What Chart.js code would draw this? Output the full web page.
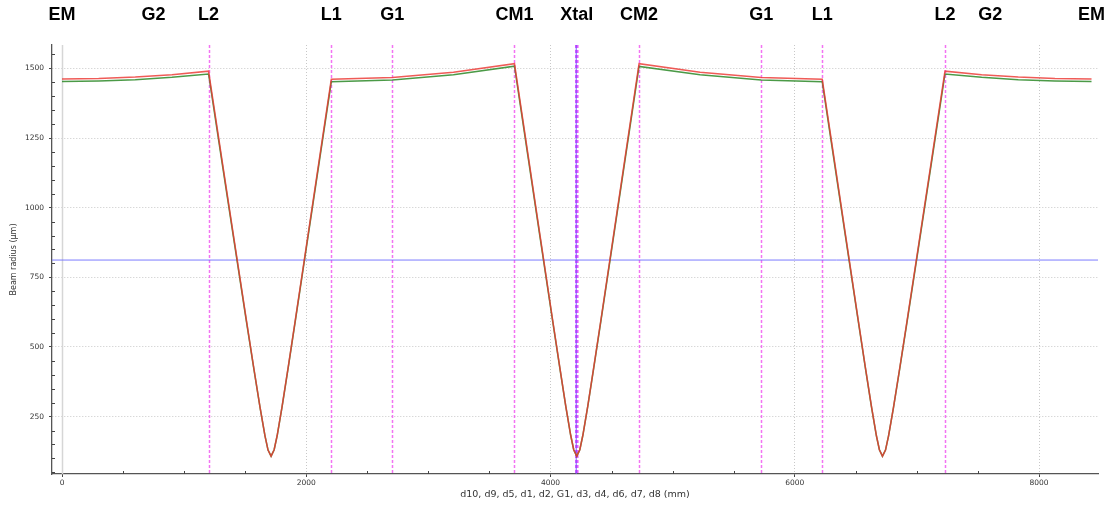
<!DOCTYPE html>
<html>
<head>
<meta charset="utf-8">
<title>Beam radius along the cavity</title>
<script src="https://cdn.jsdelivr.net/npm/chart.js@4.4.0/dist/chart.umd.min.js"></script>
<style>
  html, body { margin: 0; padding: 0; background: #ffffff; }
  canvas { display: block; }
</style>
</head>
<body>
<canvas id="cavity" width="1114" height="508"></canvas>
<script>
// Optical elements along the unfolded cavity (mm)
const elementNames     = ['EM', 'G2', 'L2', 'L1', 'G1', 'CM1', 'Xtal', 'CM2', 'G1', 'L1', 'L2', 'G2', 'EM'];
const elementPositions = [0, 750, 1200, 2205, 2705, 3705, 4215, 4725, 5725, 6225, 7230, 7600, 8430];

// Elements marked with a dashed vertical line
const markerPositions  = [1200, 2205, 2705, 3705, 4725, 5725, 6225, 7230];
const crystalPosition  = 4215;

// Beam radius samples (position in mm, radius in µm)
const positionMm = [
  0, 300, 600, 900, 1200,
  1312, 1412, 1512, 1572, 1622, 1662, 1687, 1712, 1737, 1762, 1802, 1852, 1912, 2012, 2112, 2205,
  2705, 3205, 3705,
  3815, 3915, 4015, 4075, 4125, 4165, 4190, 4215, 4240, 4265, 4305, 4355, 4415, 4515, 4615, 4725,
  5225, 5725, 6225,
  6318, 6418, 6518, 6578, 6628, 6668, 6693, 6718, 6743, 6768, 6808, 6858, 6918, 7018, 7118, 7230,
  7530, 7830, 8130, 8430
];
const tangentialRadius = [
  1462, 1464, 1469, 1477, 1490,
  1165, 877, 590, 420, 282, 181, 130, 108, 131, 183, 287, 428, 602, 895, 1189, 1461,
  1467, 1486, 1517,
  1193, 898, 604, 430, 288, 184, 131, 108, 131, 184, 288, 430, 604, 898, 1193, 1517,
  1486, 1467, 1461,
  1189, 895, 602, 428, 287, 183, 131, 108, 130, 181, 282, 420, 590, 877, 1165, 1490,
  1477, 1469, 1464, 1462
];
const sagittalRadius = [
  1453, 1455, 1459, 1468, 1480,
  1157, 871, 586, 418, 281, 181, 130, 108, 131, 182, 285, 425, 598, 889, 1181, 1452,
  1458, 1477, 1508,
  1185, 892, 600, 428, 287, 183, 131, 108, 131, 183, 287, 428, 600, 892, 1185, 1507,
  1477, 1458, 1452,
  1181, 889, 598, 425, 285, 182, 131, 108, 130, 181, 281, 418, 586, 871, 1157, 1480,
  1468, 1459, 1455, 1453
];
const thresholdRadius = 812;

// Axis ranges and ticks
const xRange = [-82, 8483];
const yRange = [44, 1584];
const xMajorTicks = [0, 2000, 4000, 6000, 8000];
const yMajorTicks = [250, 500, 750, 1000, 1250, 1500];
const xMinorStep = 500;
const yMinorStep = 50;

const toPoints = (xs, ys) => xs.map((x, i) => ({ x: x, y: ys[i] }));

// Element names above the plot, dashed element markers, zero line and minor ticks
const cavityDecor = {
  id: 'cavityDecor',
  beforeDatasetsDraw(chart) {
    const { ctx, chartArea: a, scales: { x } } = chart;
    ctx.save();
    // solid zero line
    const x0 = Math.round(x.getPixelForValue(0)) + 0.5;
    ctx.strokeStyle = '#d6d6d6';
    ctx.lineWidth = 1.5;
    ctx.beginPath(); ctx.moveTo(x0, a.top); ctx.lineTo(x0, a.bottom); ctx.stroke();

    // dashed element markers
    ctx.setLineDash([3, 2]);
    ctx.strokeStyle = 'rgba(240, 80, 240, 0.8)';
    ctx.lineWidth = 1.5;
    markerPositions.forEach(p => {
      const px = Math.round(x.getPixelForValue(p)) + 0.5;
      ctx.beginPath(); ctx.moveTo(px, a.top); ctx.lineTo(px, a.bottom); ctx.stroke();
    });
    // crystal
    const cx = x.getPixelForValue(crystalPosition);
    ctx.lineWidth = 3.5;
    ctx.strokeStyle = 'rgba(225, 70, 255, 0.9)';
    ctx.beginPath(); ctx.moveTo(cx, a.top); ctx.lineTo(cx, a.bottom); ctx.stroke();
    ctx.setLineDash([]);
    ctx.lineWidth = 1.2;
    ctx.strokeStyle = 'rgba(120, 80, 255, 0.8)';
    ctx.beginPath(); ctx.moveTo(cx - 0.5, a.top); ctx.lineTo(cx - 0.5, a.bottom); ctx.stroke();
    ctx.restore();
  },
  afterDraw(chart) {
    const { ctx, chartArea: a, scales: { x, y } } = chart;
    ctx.save();
    // minor ticks pointing into the plot
    ctx.strokeStyle = '#444';
    ctx.lineWidth = 1;
    for (let v = 0; v <= xRange[1]; v += xMinorStep) {
      if (xMajorTicks.includes(v)) continue;
      const px = Math.round(x.getPixelForValue(v)) + 0.5;
      ctx.beginPath(); ctx.moveTo(px, a.bottom); ctx.lineTo(px, a.bottom - 3); ctx.stroke();
    }
    for (let v = yMinorStep; v <= yRange[1]; v += yMinorStep) {
      if (yMajorTicks.includes(v) || v < yRange[0]) continue;
      const py = Math.round(y.getPixelForValue(v)) + 0.5;
      ctx.beginPath(); ctx.moveTo(a.left, py); ctx.lineTo(a.left + 3, py); ctx.stroke();
    }
    // element names
    ctx.fillStyle = '#000';
    ctx.font = 'bold 18px "Liberation Sans", Arial, sans-serif';
    ctx.textAlign = 'center';
    ctx.textBaseline = 'middle';
    elementNames.forEach((name, i) => {
      ctx.fillText(name, x.getPixelForValue(elementPositions[i]), 15);
    });
    ctx.restore();
  }
};

const tickFont = { family: '"DejaVu Sans", Verdana, sans-serif', size: 7.5 };
const xTitleFont = { family: '"DejaVu Sans", Verdana, sans-serif', size: 9.5 };
const yTitleFont = { family: '"DejaVu Sans", Verdana, sans-serif', size: 8 };

new Chart(document.getElementById('cavity'), {
  type: 'line',
  data: {
    datasets: [
      {
        label: 'Tangential',
        data: toPoints(positionMm, tangentialRadius),
        borderColor: 'rgba(235, 55, 50, 0.82)',
        borderWidth: 1.5,
        pointRadius: 0,
        tension: 0,
        fill: false
      },
      {
        label: 'Sagittal',
        data: toPoints(positionMm, sagittalRadius),
        borderColor: 'rgba(50, 140, 45, 0.88)',
        borderWidth: 1.5,
        pointRadius: 0,
        tension: 0,
        fill: false
      },
      {
        label: 'Threshold',
        data: [{ x: xRange[0], y: thresholdRadius }, { x: xRange[1], y: thresholdRadius }],
        borderColor: 'rgba(110, 110, 255, 0.9)',
        borderWidth: 1,
        pointRadius: 0,
        fill: false
      }
    ]
  },
  options: {
    responsive: false,
    devicePixelRatio: 1,
    animation: false,
    layout: { padding: { top: 45, right: 16, left: 0, bottom: 0 } },
    plugins: { legend: { display: false }, tooltip: { enabled: false } },
    scales: {
      x: {
        type: 'linear',
        min: xRange[0],
        max: xRange[1],
        afterBuildTicks: axis => { axis.ticks = xMajorTicks.map(v => ({ value: v })); },
        afterFit: axis => { axis.height = 34; },
        ticks: { font: tickFont, color: '#333', padding: 2, maxRotation: 0, callback: v => String(v) },
        grid: { color: '#c8c8c8', lineWidth: 1, drawTicks: true, tickLength: 3, tickColor: '#444', tickWidth: 1 },
        border: { display: true, color: '#555', width: 1.3, dash: [1, 2] },
        title: {
          display: true,
          text: 'd10, d9, d5, d1, d2, G1, d3, d4, d6, d7, d8 (mm)',
          font: xTitleFont,
          color: '#333',
          padding: { top: 0, bottom: 8 }
        }
      },
      y: {
        type: 'linear',
        min: yRange[0],
        max: yRange[1],
        afterBuildTicks: axis => { axis.ticks = yMajorTicks.map(v => ({ value: v })); },
        afterFit: axis => { axis.width = 52; },
        ticks: { font: tickFont, color: '#333', padding: 5, callback: v => String(v) },
        grid: { color: '#c8c8c8', lineWidth: 1, drawTicks: true, tickLength: 3, tickColor: '#444', tickWidth: 1 },
        border: { display: true, color: '#555', width: 1.3, dash: [1, 2] },
        title: {
          display: true,
          text: 'Beam radius (µm)',
          font: yTitleFont,
          color: '#333',
          padding: { top: 9, bottom: 0 }
        }
      }
    }
  },
  plugins: [cavityDecor]
});
</script>
</body>
</html>
